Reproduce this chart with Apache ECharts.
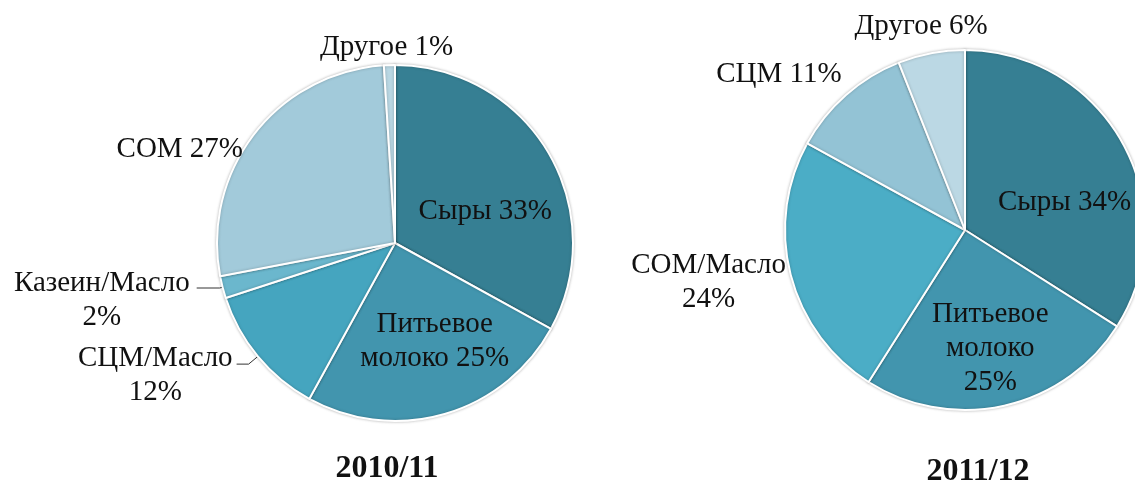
<!DOCTYPE html>
<html><head><meta charset="utf-8">
<script src="https://cdn.jsdelivr.net/npm/echarts@6/dist/echarts.min.js"></script>
<style>html,body{margin:0;padding:0;background:#fff}#c{width:1135px;height:481px}</style>
</head><body><div id="c"></div>
<script>
const titles = ['2010/11', '2011/12'];
const cats1 = ['Сыры', 'Питьевое молоко', 'СЦМ/Масло', 'Казеин/Масло', 'СОМ', 'Другое'];
const vals1 = [33, 25, 12, 2, 27, 1];
const labelNames1 = ['Сыры', 'Питьевое\nмолоко', 'СЦМ/Масло\n', 'Казеин/Масло\n', 'СОМ', 'Другое'];
const cats2 = ['Сыры', 'Питьевое молоко', 'СОМ/Масло', 'СЦМ', 'Другое'];
const vals2 = [34, 25, 24, 11, 6];
const labelNames2 = ['Сыры', 'Питьевое\nмолоко\n', 'СОМ/Масло\n', 'СЦМ', 'Другое'];

// styling / layout
const colors1 = ['#367F93', '#4295AE', '#45A5BF', '#6BB7CD', '#A2CADA', '#B9D7E3'];
const colors2 = ['#367F93', '#4295AE', '#4BADC6', '#93C3D5', '#BBD8E4'];
const inside1 = [true, true, false, false, false, false];
const inside2 = [true, true, false, false, false];
const showLine1 = [false, false, true, true, false, false];
const showLine2 = [false, false, false, false, false];
const lineLen1 = [[8, 22], [8, 22], [12, 12], [3, 23], [8, 22], [8, 22]];
const lineLen2 = [[8, 22], [8, 22], [8, 22], [8, 22], [8, 22]];
const offs1 = [[11, 15], [14, 10], [3, 11], [0, 12], [24, 20], [93, -10]];
const offs2 = [[18, 17], [5, 28], [32, 6], [30, -15], [87, -19]];

const font = 'Liberation Serif, Times New Roman, serif';

function buildData(cats, vals, names, colors, inside, showLine, lineLen) {
  return cats.map((c, i) => ({
    name: c,
    value: vals[i],
    itemStyle: { color: colors[i] },
    label: {
      position: inside[i] ? 'inside' : 'outside',
      formatter: names[i] + (names[i].endsWith('\n') ? '' : ' ') + vals[i] + '%'
    },
    labelLine: { show: showLine[i], length: lineLen[i][0], length2: lineLen[i][1] }
  }));
}

function series(cats, vals, names, colors, inside, showLine, lineLen, center, radius, offs) {
  return {
    type: 'pie',
    center: center,
    radius: radius,
    startAngle: 90,
    clockwise: true,
    avoidLabelOverlap: false,
    itemStyle: { borderColor: '#fff', borderWidth: 2, shadowBlur: 3, shadowColor: 'rgba(0,0,0,0.25)' },
    label: { color: '#111', fontFamily: font, fontSize: 29, lineHeight: 34, distanceToLabelLine: 7 },
    labelLine: { lineStyle: { color: '#333', width: 1 } },
    labelLayout: function (p) {
      const o = offs[p.dataIndex];
      let dx = o[0];
      if (p.align === 'right') dx -= p.labelRect.width / 2;
      else if (p.align === 'left') dx += p.labelRect.width / 2;
      return { align: 'center', verticalAlign: 'middle', dx: dx, dy: o[1] };
    },
    emphasis: { disabled: true },
    data: buildData(cats, vals, names, colors, inside, showLine, lineLen)
  };
}

const chart = echarts.init(document.getElementById('c'), null, { renderer: 'canvas' });
const titleStyle = { fontFamily: font, fontSize: 32, fontWeight: 'bold', color: '#111' };
chart.setOption({
  animation: false,
  backgroundColor: '#fff',
  title: [
    { text: titles[0], left: 382, top: 448, textAlign: 'center', textStyle: titleStyle },
    { text: titles[1], left: 973, top: 451, textAlign: 'center', textStyle: titleStyle }
  ],
  series: [
    series(cats1, vals1, labelNames1, colors1, inside1, showLine1, lineLen1, [395, 243], 178, offs1),
    series(cats2, vals2, labelNames2, colors2, inside2, showLine2, lineLen2, [965, 230], 180, offs2)
  ]
});
</script></body></html>
